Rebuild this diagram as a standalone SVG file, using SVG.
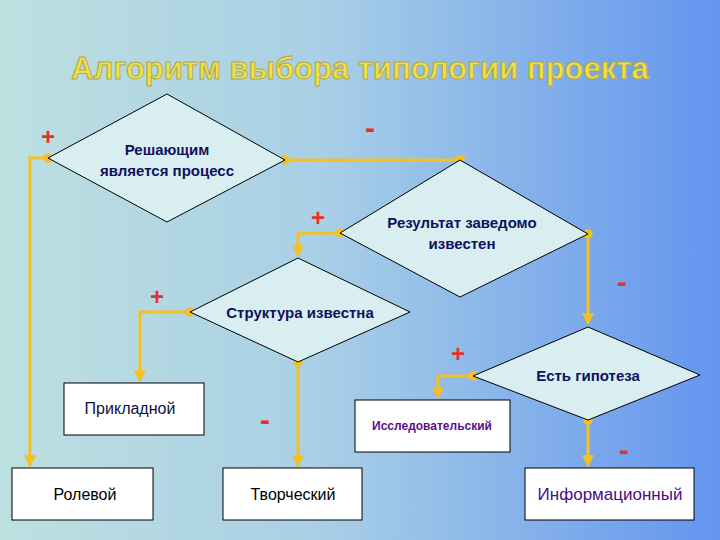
<svg xmlns="http://www.w3.org/2000/svg" width="720" height="540" viewBox="0 0 720 540">
<defs>
<linearGradient id="bg" x1="0" y1="0" x2="1" y2="0">
<stop offset="0" stop-color="#bde0e0"/><stop offset="0.45" stop-color="#a8cfe6"/><stop offset="1" stop-color="#6495ef"/>
</linearGradient>
<marker id="ah" viewBox="0 0 10 10" refX="9" refY="5" markerWidth="4" markerHeight="4" orient="auto"><path d="M0,0L10,5L0,10z" fill="#f5c022"/></marker>
<marker id="dot" viewBox="0 0 10 10" refX="5" refY="5" markerWidth="3.5" markerHeight="3.5"><circle cx="5" cy="5" r="4.5" fill="#f5c022"/></marker>
</defs>
<style>
.d{fill:#d8eef0;stroke:#000;stroke-width:1}
.b{fill:#fff;stroke:#000;stroke-width:1}
.t{font-family:"Liberation Sans",Arial,sans-serif;font-weight:bold;font-size:15px;fill:#101060;text-anchor:middle}
.r{font-family:"Liberation Sans",Arial,sans-serif;font-size:16px;fill:#101040;text-anchor:middle}
.c{fill:none;stroke:#f5c022;stroke-width:3;marker-start:url(#dot);marker-end:url(#ah)}
.s{font-family:"Liberation Sans",Arial,sans-serif;font-weight:bold;font-size:24px;fill:#e8302a;text-anchor:middle}
.m{font-family:"Liberation Sans",Arial,sans-serif;font-weight:bold;font-size:30px;fill:#e8302a;text-anchor:middle}
</style>
<rect width="720" height="540" fill="url(#bg)"/>
<text x="360" y="79" font-family="Liberation Sans,Arial,sans-serif" font-weight="bold" font-size="31" text-anchor="middle" fill="#f0e048" stroke="#b0a850" stroke-width="1">Алгоритм выбора типологии проекта</text>
<g id="connectors">
<polyline class="c" points="48,158 30,158 30,466"/>
<polyline class="c" points="285,160 460,160 460,166"/>
<polyline class="c" points="340,233 298,233 298,256"/>
<polyline class="c" points="588,234 588,324"/>
<polyline class="c" points="190,312 140,312 140,381"/>
<polyline class="c" points="298,362 298,466"/>
<polyline class="c" points="473,376 438,376 438,398"/>
<polyline class="c" points="588,420 588,466"/>
</g>
<g id="d1"><polygon class="d" points="48,158 167,94 285,160 167,222"/><text class="t" x="167" y="155">Решающим</text><text class="t" x="167" y="176">является процесс</text></g>
<g id="d2"><polygon class="d" points="340,233 460,160 588,234 460,297"/><text class="t" x="462" y="228">Результат заведомо</text><text class="t" x="462" y="249">известен</text></g>
<g id="d3"><polygon class="d" points="190,312 298,258 410,312 298,362"/><text class="t" x="300" y="318">Структура известна</text></g>
<g id="d4"><polygon class="d" points="473,376 588,327 700,375 588,420"/><text class="t" x="588" y="381">Есть гипотеза</text></g>
<g id="b1"><rect class="b" x="64" y="383" width="140" height="52"/><text class="r" x="130" y="414">Прикладной</text></g>
<g id="b2"><rect class="b" x="12" y="468" width="141" height="52"/><text class="r" x="85" y="500" style="fill:#000">Ролевой</text></g>
<g id="b3"><rect class="b" x="223" y="468" width="139" height="52"/><text class="r" x="293" y="500" style="fill:#000">Творческий</text></g>
<g id="b4"><rect class="b" x="355" y="400" width="155" height="52"/><text class="t" x="432" y="430" style="fill:#5a1090;font-size:12px">Исследовательский</text></g>
<g id="b5"><rect class="b" x="525" y="468" width="169" height="52"/><text class="r" x="610" y="500" style="fill:#4b0a8a;font-size:17px">Информационный</text></g>
<g id="signs">
<text class="s" x="48" y="145">+</text><text class="m" x="370" y="138">-</text>
<text class="s" x="318" y="226">+</text><text class="m" x="622" y="292">-</text>
<text class="s" x="157" y="305">+</text><text class="s" x="458" y="362">+</text>
<text class="m" x="265" y="430">-</text><text class="m" x="624" y="460">-</text>
</g>
</svg>
